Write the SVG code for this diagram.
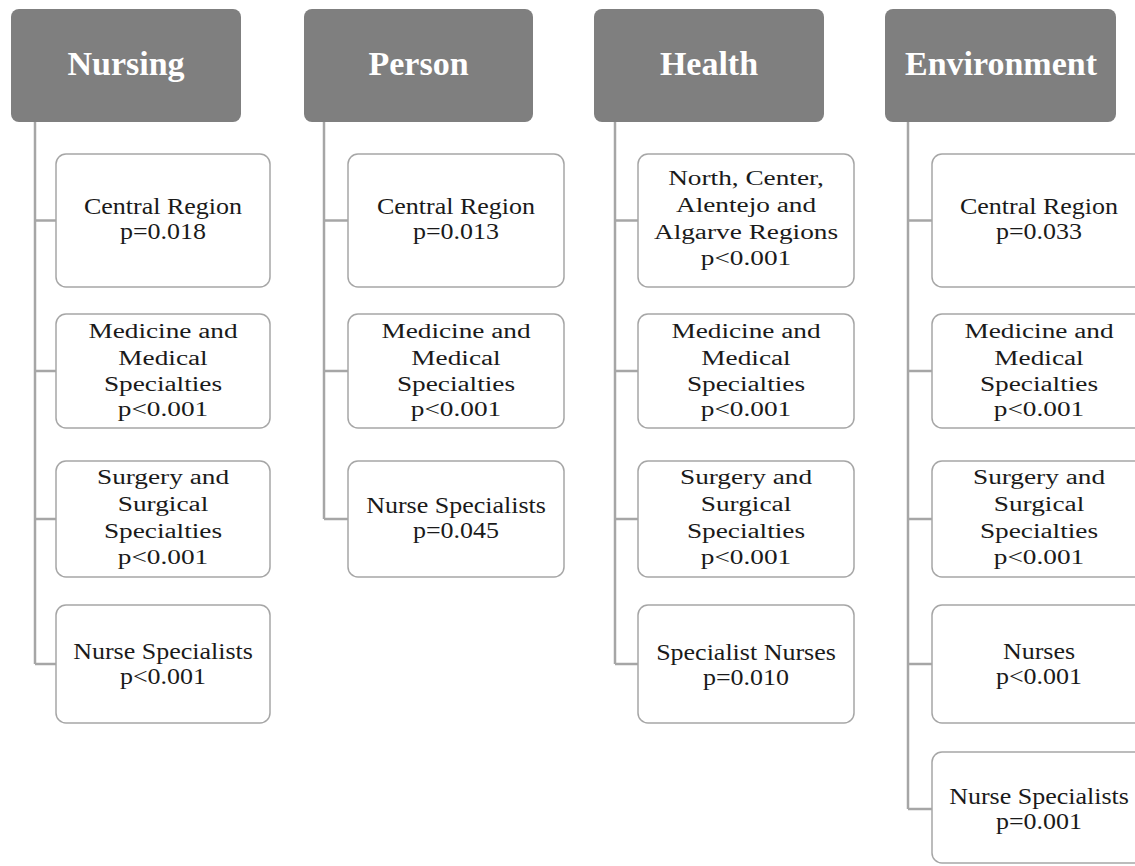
<svg xmlns="http://www.w3.org/2000/svg" width="1135" height="866" viewBox="0 0 1135 866">
<style>
.hdr{fill:#7f7f7f;stroke:none}
.htx{font-family:"Liberation Serif","Times New Roman",serif;font-weight:bold;font-size:34px;fill:#ffffff;text-anchor:middle}
.box{fill:#ffffff;stroke:#a6a6a6;stroke-width:1.5}
.tx{font-family:"Liberation Serif","Times New Roman",serif;font-size:26px;fill:#1a1a1a;text-anchor:middle}
.con{fill:none;stroke:#a6a6a6;stroke-width:2.5}
</style>
<rect width="1135" height="866" fill="#ffffff"/>
<g id="connectors">
<path class="con" d="M35,122 V664 M35,220.5 H56 M35,371 H56 M35,519 H56 M35,664 H56"/>
<path class="con" d="M324,122 V519 M324,220.5 H348 M324,371 H348 M324,519 H348"/>
<path class="con" d="M615,122 V664 M615,220.5 H638 M615,371 H638 M615,519 H638 M615,664 H638"/>
<path class="con" d="M908,122 V809 M908,220.5 H932 M908,371 H932 M908,519 H932 M908,664 H932 M908,809 H932"/>
</g>
<g id="nursing">
<rect class="hdr" x="11" y="9" width="230" height="113" rx="8"/>
<text class="htx" x="126" y="75">Nursing</text>
</g>
<g id="nursing-1"><rect class="box" x="56" y="154" width="214" height="133" rx="10"/>
<text class="tx" transform="translate(163,214) scale(1,0.92)">Central Region</text><text class="tx" transform="translate(163,239) scale(1,0.92)">p=0.018</text></g>
<g id="nursing-2"><rect class="box" x="56" y="314" width="214" height="114" rx="10"/>
<text class="tx" transform="translate(163,338) scale(1.05,0.8)">Medicine and</text>
<text class="tx" transform="translate(163,364.5) scale(1.05,0.8)">Medical</text>
<text class="tx" transform="translate(163,391) scale(1.05,0.8)">Specialties</text>
<text class="tx" transform="translate(163,416) scale(1.05,0.8)">p&lt;0.001</text></g>
<g id="nursing-3"><rect class="box" x="56" y="461" width="214" height="116" rx="10"/>
<text class="tx" transform="translate(163,484) scale(1.05,0.8)">Surgery and</text>
<text class="tx" transform="translate(163,511) scale(1.05,0.8)">Surgical</text>
<text class="tx" transform="translate(163,538) scale(1.05,0.8)">Specialties</text>
<text class="tx" transform="translate(163,564) scale(1.05,0.8)">p&lt;0.001</text></g>
<g id="nursing-4"><rect class="box" x="56" y="605" width="214" height="118" rx="10"/>
<text class="tx" transform="translate(163,659) scale(1,0.92)">Nurse Specialists</text><text class="tx" transform="translate(163,684) scale(1,0.92)">p&lt;0.001</text></g>

<g id="person">
<rect class="hdr" x="304" y="9" width="229" height="113" rx="8"/>
<text class="htx" x="418.5" y="75">Person</text>
</g>
<g id="person-1"><rect class="box" x="348" y="154" width="216" height="133" rx="10"/>
<text class="tx" transform="translate(456,214) scale(1,0.92)">Central Region</text><text class="tx" transform="translate(456,239) scale(1,0.92)">p=0.013</text></g>
<g id="person-2"><rect class="box" x="348" y="314" width="216" height="114" rx="10"/>
<text class="tx" transform="translate(456,338) scale(1.05,0.8)">Medicine and</text>
<text class="tx" transform="translate(456,364.5) scale(1.05,0.8)">Medical</text>
<text class="tx" transform="translate(456,391) scale(1.05,0.8)">Specialties</text>
<text class="tx" transform="translate(456,416) scale(1.05,0.8)">p&lt;0.001</text></g>
<g id="person-3"><rect class="box" x="348" y="461" width="216" height="116" rx="10"/>
<text class="tx" transform="translate(456,513) scale(1,0.92)">Nurse Specialists</text><text class="tx" transform="translate(456,538) scale(1,0.92)">p=0.045</text></g>

<g id="health">
<rect class="hdr" x="594" y="9" width="230" height="113" rx="8"/>
<text class="htx" x="709" y="75">Health</text>
</g>
<g id="health-1"><rect class="box" x="638" y="154" width="216" height="133" rx="10"/>
<text class="tx" transform="translate(746,185) scale(1.05,0.8)">North, Center,</text>
<text class="tx" transform="translate(746,212) scale(1.05,0.8)">Alentejo and</text>
<text class="tx" transform="translate(746,238.5) scale(1.05,0.8)">Algarve Regions</text>
<text class="tx" transform="translate(746,265) scale(1.05,0.8)">p&lt;0.001</text></g>
<g id="health-2"><rect class="box" x="638" y="314" width="216" height="114" rx="10"/>
<text class="tx" transform="translate(746,338) scale(1.05,0.8)">Medicine and</text>
<text class="tx" transform="translate(746,364.5) scale(1.05,0.8)">Medical</text>
<text class="tx" transform="translate(746,391) scale(1.05,0.8)">Specialties</text>
<text class="tx" transform="translate(746,416) scale(1.05,0.8)">p&lt;0.001</text></g>
<g id="health-3"><rect class="box" x="638" y="461" width="216" height="116" rx="10"/>
<text class="tx" transform="translate(746,484) scale(1.05,0.8)">Surgery and</text>
<text class="tx" transform="translate(746,511) scale(1.05,0.8)">Surgical</text>
<text class="tx" transform="translate(746,538) scale(1.05,0.8)">Specialties</text>
<text class="tx" transform="translate(746,564) scale(1.05,0.8)">p&lt;0.001</text></g>
<g id="health-4"><rect class="box" x="638" y="605" width="216" height="118" rx="10"/>
<text class="tx" transform="translate(746,660) scale(1,0.92)">Specialist Nurses</text><text class="tx" transform="translate(746,685) scale(1,0.92)">p=0.010</text></g>

<g id="environment">
<rect class="hdr" x="885" y="9" width="231" height="113" rx="8"/>
<text class="htx" x="1001" y="75">Environment</text>
</g>
<g id="environment-1"><rect class="box" x="932" y="154" width="214" height="133" rx="10"/>
<text class="tx" transform="translate(1039,214) scale(1,0.92)">Central Region</text><text class="tx" transform="translate(1039,239) scale(1,0.92)">p=0.033</text></g>
<g id="environment-2"><rect class="box" x="932" y="314" width="214" height="114" rx="10"/>
<text class="tx" transform="translate(1039,338) scale(1.05,0.8)">Medicine and</text>
<text class="tx" transform="translate(1039,364.5) scale(1.05,0.8)">Medical</text>
<text class="tx" transform="translate(1039,391) scale(1.05,0.8)">Specialties</text>
<text class="tx" transform="translate(1039,416) scale(1.05,0.8)">p&lt;0.001</text></g>
<g id="environment-3"><rect class="box" x="932" y="461" width="214" height="116" rx="10"/>
<text class="tx" transform="translate(1039,484) scale(1.05,0.8)">Surgery and</text>
<text class="tx" transform="translate(1039,511) scale(1.05,0.8)">Surgical</text>
<text class="tx" transform="translate(1039,538) scale(1.05,0.8)">Specialties</text>
<text class="tx" transform="translate(1039,564) scale(1.05,0.8)">p&lt;0.001</text></g>
<g id="environment-4"><rect class="box" x="932" y="605" width="214" height="118" rx="10"/>
<text class="tx" transform="translate(1039,659) scale(1,0.92)">Nurses</text><text class="tx" transform="translate(1039,684) scale(1,0.92)">p&lt;0.001</text></g>
<g id="environment-5"><rect class="box" x="932" y="752" width="214" height="111" rx="10"/>
<text class="tx" transform="translate(1039,804) scale(1,0.92)">Nurse Specialists</text><text class="tx" transform="translate(1039,829) scale(1,0.92)">p=0.001</text></g>
</svg>
